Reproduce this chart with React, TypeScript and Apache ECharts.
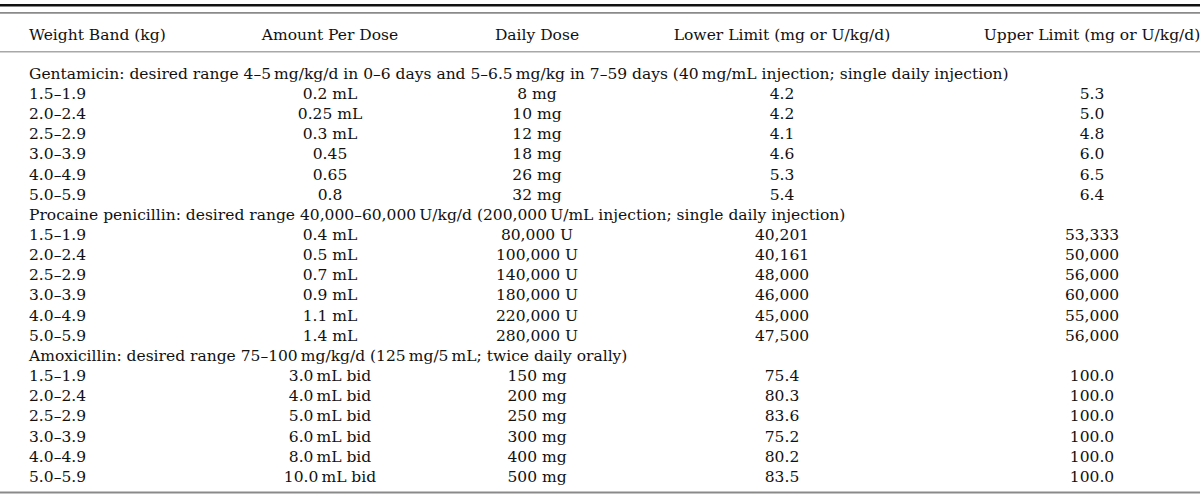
import React, { useEffect, useRef } from "react";
import * as echarts from "echarts";

const headers = [
  "Weight Band (kg)",
  "Amount Per Dose",
  "Daily Dose",
  "Lower Limit (mg or U/kg/d)",
  "Upper Limit (mg or U/kg/d)",
];

const weightBands = ["1.5–1.9", "2.0–2.4", "2.5–2.9", "3.0–3.9", "4.0–4.9", "5.0–5.9"];

const groupTitles = [
  "Gentamicin: desired range 4–5\u2009mg/kg/d in 0–6 days and 5–6.5\u2009mg/kg in 7–59 days (40\u2009mg/mL injection; single daily injection)",
  "Procaine penicillin: desired range 40,000–60,000\u2009U/kg/d (200,000\u2009U/mL injection; single daily injection)",
  "Amoxicillin: desired range 75–100\u2009mg/kg/d (125\u2009mg/5\u2009mL; twice daily orally)",
];

const gentAmount = ["0.2 mL", "0.25 mL", "0.3 mL", "0.45", "0.65", "0.8"];
const gentDaily = ["8 mg", "10 mg", "12 mg", "18 mg", "26 mg", "32 mg"];
const gentLower = ["4.2", "4.2", "4.1", "4.6", "5.3", "5.4"];
const gentUpper = ["5.3", "5.0", "4.8", "6.0", "6.5", "6.4"];

const procAmount = ["0.4 mL", "0.5 mL", "0.7 mL", "0.9 mL", "1.1 mL", "1.4 mL"];
const procDaily = ["80,000 U", "100,000 U", "140,000 U", "180,000 U", "220,000 U", "280,000 U"];
const procLower = ["40,201", "40,161", "48,000", "46,000", "45,000", "47,500"];
const procUpper = ["53,333", "50,000", "56,000", "60,000", "55,000", "56,000"];

const amoxAmount = ["3.0\u2009mL bid", "4.0\u2009mL bid", "5.0\u2009mL bid", "6.0\u2009mL bid", "8.0\u2009mL bid", "10.0\u2009mL bid"];
const amoxDaily = ["150 mg", "200 mg", "250 mg", "300 mg", "400 mg", "500 mg"];
const amoxLower = ["75.4", "80.3", "83.6", "75.2", "80.2", "83.5"];
const amoxUpper = ["100.0", "100.0", "100.0", "100.0", "100.0", "100.0"];

const groups = [
  { title: groupTitles[0], amount: gentAmount, daily: gentDaily, lower: gentLower, upper: gentUpper },
  { title: groupTitles[1], amount: procAmount, daily: procDaily, lower: procLower, upper: procUpper },
  { title: groupTitles[2], amount: amoxAmount, daily: amoxDaily, lower: amoxLower, upper: amoxUpper },
];

const W = 1200;
const H = 495;
const FONT = "'DejaVu Serif', serif";
const FS = 15.5;
const COLOR = "#111111";
const colX = [29, 330, 537, 782, 1092];
const colAlign = ["left", "center", "center", "center", "center"];
const headerY = 35;
const firstRowY = 73.8;
const rowH = 20.15;

function txt(text: string, x: number, y: number, align: string) {
  return {
    type: "text",
    x,
    y,
    silent: true,
    style: {
      text,
      fill: COLOR,
      font: `${FS}px ${FONT}`,
      textAlign: align,
      textVerticalAlign: "middle",
    },
  };
}

function hline(y: number, width: number, color: string) {
  return {
    type: "line",
    silent: true,
    shape: { x1: 0, y1: y, x2: W, y2: y },
    style: { stroke: color, lineWidth: width },
  };
}

export default function App() {
  const ref = useRef<HTMLDivElement>(null);
  useEffect(() => {
    if (!ref.current) return;
    const chart = echarts.init(ref.current, undefined, { renderer: "svg", width: W, height: H });
    const elements: any[] = [];
    elements.push(hline(5.2, 2.6, "#111111"));
    elements.push(hline(12.8, 1.8, "#8a8a8a"));
    elements.push(hline(51.8, 1.4, "#a8a8a8"));
    elements.push(hline(492.5, 2, "#8a8a8a"));
    headers.forEach((h, i) => elements.push(txt(h, colX[i], headerY, colAlign[i])));
    let r = 0;
    groups.forEach((g) => {
      elements.push(txt(g.title, colX[0], firstRowY + rowH * r, "left"));
      r++;
      weightBands.forEach((wb, k) => {
        const y = firstRowY + rowH * r;
        const cells = [wb, g.amount[k], g.daily[k], g.lower[k], g.upper[k]];
        cells.forEach((c, ci) => elements.push(txt(c, colX[ci], y, colAlign[ci])));
        r++;
      });
    });
    chart.setOption({
      animation: false,
      backgroundColor: "#ffffff",
      graphic: { elements },
    });
    return () => chart.dispose();
  }, []);
  return (
    <div
      ref={ref}
      style={{ position: "absolute", left: 0, top: 0, width: W, height: H, background: "#fff" }}
    />
  );
}
